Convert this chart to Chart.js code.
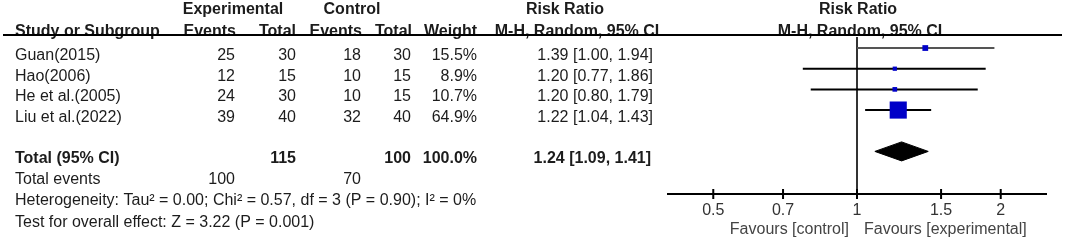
<!DOCTYPE html>
<html>
<head>
<meta charset="utf-8">
<script src="https://cdn.jsdelivr.net/npm/chart.js@4"></script>
<style>
  body { margin: 0; background: #fff; }
  #wrap { width: 1065px; height: 241px; position: relative; }
</style>
</head>
<body>
<div id="wrap"><canvas id="chart"></canvas></div>
<script>
const studies = ['Guan(2015)', 'Hao(2006)', 'He et al.(2005)', 'Liu et al.(2022)'];
const expEvents = [25, 12, 24, 39];
const expTotal = [30, 15, 30, 40];
const ctrlEvents = [18, 10, 10, 32];
const ctrlTotal = [30, 15, 15, 40];
const weights = [15.5, 8.9, 10.7, 64.9];
const riskRatio = [1.39, 1.20, 1.20, 1.22];
const ciLow = [1.00, 0.77, 0.80, 1.04];
const ciHigh = [1.94, 1.86, 1.79, 1.43];

const totalLabel = 'Total (95% CI)';
const totalExp = 115;
const totalCtrl = 100;
const totalWeight = 100.0;
const totalRR = 1.24;
const totalLow = 1.09;
const totalHigh = 1.41;
const totalEventsExp = 100;
const totalEventsCtrl = 70;

const heterogeneity = 'Heterogeneity: Tau² = 0.00; Chi² = 0.57, df = 3 (P = 0.90); I² = 0%';
const overallEffect = 'Test for overall effect: Z = 3.22 (P = 0.001)';

const xTicks = [0.5, 0.7, 1, 1.5, 2];
const favourLeft = 'Favours [control]';
const favourRight = 'Favours [experimental]';

// layout
const FONT = 'Liberation Sans, Arial, Helvetica, sans-serif';
const FS = 16;
const TEXT = '#1c1c1c';
const Y_MIN = -0.63, Y_MAX = 7.06;
const TOTAL_ROW = 5;
const TEXT_DY = 7.5;

function fmt2(v) { return v.toFixed(2); }
function ciText(r, lo, hi) { return fmt2(r) + ' [' + fmt2(lo) + ', ' + fmt2(hi) + ']'; }

var datasets = [];
datasets.push({
    type: 'scatter',
    data: studies.map(function (s, i) { return { x: riskRatio[i], y: i }; }),
    pointStyle: 'rect',
    pointRadius: weights.map(function (w) { return (2.2 + 0.23 * w) / Math.SQRT2; }),
    backgroundColor: '#0000c8',
    borderWidth: 0,
});
datasets.push({
    type: 'line',
    data: [
        { x: totalLow, y: TOTAL_ROW },
        { x: totalRR, y: TOTAL_ROW - 0.46 },
        { x: totalHigh, y: TOTAL_ROW },
        { x: totalRR, y: TOTAL_ROW + 0.46 },
        { x: totalLow, y: TOTAL_ROW },
    ],
    borderColor: '#000',
    backgroundColor: '#000',
    borderWidth: 1,
    pointRadius: 0,
    fill: 'shape',
    tension: 0,
});
studies.forEach(function (s, i) {
    datasets.push({
        type: 'line',
        data: [{ x: ciLow[i], y: i }, { x: ciHigh[i], y: i }],
        borderColor: i === 0 ? '#555' : '#000',
        borderWidth: 2,
        pointRadius: 0,
    });
});
datasets.push({
    type: 'line',
    data: [{ x: 1, y: Y_MIN + 0.1 }, { x: 1, y: Y_MAX }],
    borderColor: '#333',
    borderWidth: 2,
    pointRadius: 0,
});

const tablePlugin = {
    id: 'table',
    afterDraw: function (chart) {
        const ctx = chart.ctx;
        const x = chart.scales.x, y = chart.scales.y;
        const area = chart.chartArea;
        function txt(s, px, row, align, bold, color, dy) {
            ctx.font = (bold ? 'bold ' : '') + FS + 'px ' + FONT;
            ctx.textAlign = align;
            ctx.textBaseline = 'middle';
            ctx.fillStyle = color || TEXT;
            ctx.fillText(s, px, y.getPixelForValue(row) + (dy === undefined ? TEXT_DY : dy));
        }
        ctx.save();
        // headers
        txt('Experimental', 233, -2.2, 'center', true);
        txt('Control', 352, -2.2, 'center', true);
        txt('Risk Ratio', 565, -2.2, 'center', true);
        txt('Risk Ratio', x.getPixelForValue(1) + 1, -2.2, 'center', true);
        txt('Study or Subgroup', 15, -1.15, 'left', true);
        txt('Events', 236, -1.15, 'right', true);
        txt('Total', 296, -1.15, 'right', true);
        txt('Events', 362, -1.15, 'right', true);
        txt('Total', 412, -1.15, 'right', true);
        txt('Weight', 477, -1.15, 'right', true);
        txt('M-H, Random, 95% CI', 577, -1.15, 'center', true);
        txt('M-H, Random, 95% CI', x.getPixelForValue(1) + 3, -1.15, 'center', true);
        // header rule
        ctx.strokeStyle = '#000';
        ctx.lineWidth = 2;
        ctx.beginPath();
        ctx.moveTo(3, area.top);
        ctx.lineTo(1062, area.top);
        ctx.stroke();
        // study rows
        studies.forEach(function (s, i) {
            txt(s, 15, i, 'left');
            txt(String(expEvents[i]), 235, i, 'right');
            txt(String(expTotal[i]), 296, i, 'right');
            txt(String(ctrlEvents[i]), 361, i, 'right');
            txt(String(ctrlTotal[i]), 411, i, 'right');
            txt(weights[i].toFixed(1) + '%', 477, i, 'right');
            txt(ciText(riskRatio[i], ciLow[i], ciHigh[i]), 653, i, 'right');
        });
        // total
        txt(totalLabel, 15, TOTAL_ROW, 'left', true);
        txt(String(totalExp), 296, TOTAL_ROW, 'right', true);
        txt(String(totalCtrl), 411, TOTAL_ROW, 'right', true);
        txt(totalWeight.toFixed(1) + '%', 477, TOTAL_ROW, 'right', true);
        txt(ciText(totalRR, totalLow, totalHigh), 651, TOTAL_ROW, 'right', true);
        txt('Total events', 15, TOTAL_ROW + 1, 'left');
        txt(String(totalEventsExp), 235, TOTAL_ROW + 1, 'right');
        txt(String(totalEventsCtrl), 361, TOTAL_ROW + 1, 'right');
        txt(heterogeneity, 15, TOTAL_ROW + 2, 'left');
        txt(overallEffect, 15, TOTAL_ROW + 3.07, 'left');
        // x axis
        const axisY = area.bottom;
        ctx.strokeStyle = '#000';
        ctx.lineWidth = 2;
        ctx.beginPath();
        ctx.moveTo(area.left, axisY);
        ctx.lineTo(area.right, axisY);
        xTicks.forEach(function (t) {
            const px = x.getPixelForValue(t);
            ctx.moveTo(px, axisY - 5);
            ctx.lineTo(px, axisY + 5);
        });
        ctx.stroke();
        ctx.font = FS + 'px ' + FONT;
        ctx.textAlign = 'center';
        ctx.textBaseline = 'middle';
        ctx.fillStyle = '#333';
        xTicks.forEach(function (t) {
            ctx.fillText(String(t), x.getPixelForValue(t), axisY + 17);
        });
        const nullX = x.getPixelForValue(1);
        ctx.fillStyle = '#444';
        ctx.textAlign = 'right';
        ctx.fillText(favourLeft, nullX - 8, axisY + 36);
        ctx.textAlign = 'left';
        ctx.fillText(favourRight, nullX + 7, axisY + 36);
        ctx.restore();
    }
};

var ctx = document.getElementById('chart');
var chart = new Chart(ctx, {
    type: 'scatter',
    data: { datasets: datasets },
    options: {
        responsive: true,
        maintainAspectRatio: false,
        animation: false,
        layout: { padding: { left: 667, right: 18, top: 35, bottom: 47 } },
        plugins: { legend: { display: false }, tooltip: { enabled: false } },
        scales: {
            x: { type: 'logarithmic', min: 0.4, max: 2.5, display: false },
            y: { type: 'linear', min: Y_MIN, max: Y_MAX, reverse: true, display: false },
        },
    },
    plugins: [tablePlugin],
});
</script>
</body>
</html>
